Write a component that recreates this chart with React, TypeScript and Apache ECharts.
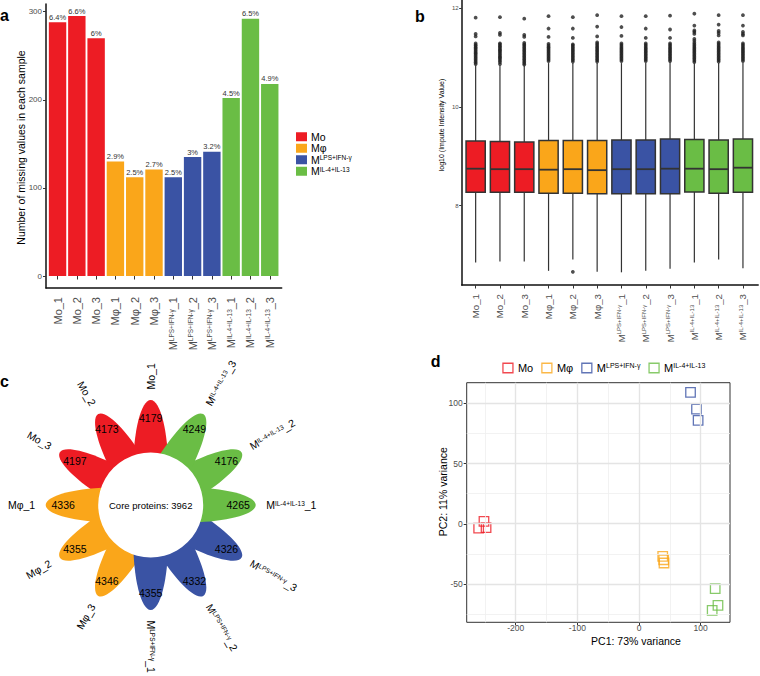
import React, { useEffect, useRef } from 'react';
import * as echarts from 'echarts';

const FONT = '"Liberation Sans", Arial, Helvetica, sans-serif';

// ---------- shared ----------
const groupNames = ['Mo', 'Mφ', 'M^LPS+IFN-γ', 'M^IL-4+IL-13'];
const groupColors = ['#ED1C24', '#FAA61A', '#3A53A4', '#6ABD45'];
const sampleNames = [
  'Mo_1', 'Mo_2', 'Mo_3', 'Mφ_1', 'Mφ_2', 'Mφ_3',
  'M^LPS+IFN-γ_1', 'M^LPS+IFN-γ_2', 'M^LPS+IFN-γ_3',
  'M^IL-4+IL-13_1', 'M^IL-4+IL-13_2', 'M^IL-4+IL-13_3',
];
const sampleGroup = [0, 0, 0, 1, 1, 1, 2, 2, 2, 3, 3, 3];

// ---------- panel a ----------
const missingCounts = [288, 295, 270, 130, 112, 121, 112, 135, 141, 202, 292, 218];
const missingPct = ['6.4%', '6.6%', '6%', '2.9%', '2.5%', '2.7%', '2.5%', '3%', '3.2%', '4.5%', '6.5%', '4.9%'];

// ---------- panel b ----------
const boxLow = [6.85, 6.87, 6.87, 6.68, 6.91, 6.66, 6.65, 6.68, 6.72, 6.85, 6.91, 6.73];
const boxQ1 = [8.27, 8.27, 8.27, 8.25, 8.25, 8.24, 8.24, 8.24, 8.24, 8.28, 8.25, 8.27];
const boxMedian = [8.75, 8.74, 8.74, 8.73, 8.74, 8.72, 8.74, 8.74, 8.75, 8.75, 8.74, 8.77];
const boxQ3 = [9.31, 9.30, 9.29, 9.32, 9.32, 9.32, 9.33, 9.33, 9.35, 9.34, 9.33, 9.35];
const boxHigh = [10.84, 10.84, 10.84, 10.89, 10.89, 10.89, 10.89, 10.89, 10.9, 10.88, 10.89, 10.89];
const boxOutliers = [
  [11.81, 11.48, 11.43, 11.29, 11.26, 11.24, 11.21, 11.19, 11.16, 11.13, 11.1, 11.08, 11.05, 11.02, 10.99, 10.96, 10.93, 10.9, 10.87],
  [11.82, 11.5, 11.46, 11.29, 11.27, 11.24, 11.22, 11.19, 11.16, 11.14, 11.11, 11.08, 11.05, 11.02, 11.0, 10.97, 10.94, 10.91, 10.87],
  [11.79, 11.46, 11.42, 11.3, 11.27, 11.25, 11.22, 11.19, 11.16, 11.13, 11.1, 11.07, 11.04, 11.01, 10.98, 10.95, 10.92, 10.89, 10.86],
  [11.84, 11.59, 11.42, 11.28, 11.25, 11.22, 11.2, 11.17, 11.14, 11.11, 11.08, 11.05, 11.02, 10.99, 10.96, 10.93],
  [11.82, 11.59, 11.4, 11.27, 11.25, 11.22, 11.19, 11.16, 11.13, 11.1, 11.07, 11.04, 11.01, 10.98, 10.95, 10.92, 6.66],
  [11.86, 11.63, 11.43, 11.31, 11.28, 11.25, 11.22, 11.19, 11.16, 11.13, 11.1, 11.07, 11.04, 11.01, 10.98, 10.95, 10.92],
  [11.84, 11.62, 11.44, 11.29, 11.26, 11.23, 11.2, 11.17, 11.14, 11.11, 11.08, 11.05, 11.02, 10.99, 10.96, 10.93],
  [11.84, 11.59, 11.4, 11.29, 11.26, 11.23, 11.2, 11.17, 11.14, 11.11, 11.08, 11.05, 11.02, 10.99, 10.96, 10.93],
  [11.85, 11.57, 11.4, 11.29, 11.26, 11.23, 11.2, 11.17, 11.14, 11.11, 11.08, 11.05, 11.02, 10.99, 10.96, 10.93],
  [11.89, 11.65, 11.55, 11.52, 11.48, 11.38, 11.34, 11.3, 11.27, 11.24, 11.21, 11.18, 11.15, 11.12, 11.09, 11.06, 11.03, 11.0, 10.97, 10.94, 10.91],
  [11.86, 11.67, 11.54, 11.5, 11.45, 11.31, 11.28, 11.25, 11.22, 11.19, 11.16, 11.13, 11.1, 11.07, 11.04, 11.01, 10.98, 10.95, 10.92],
  [11.86, 11.65, 11.52, 11.48, 11.45, 11.29, 11.26, 11.23, 11.2, 11.17, 11.14, 11.11, 11.08, 11.05, 11.02, 10.99, 10.96, 10.93],
];

// ---------- panel c ----------
const flowerCounts = [4179, 4173, 4197, 4336, 4355, 4346, 4355, 4332, 4326, 4265, 4176, 4249];
const coreCount = 3962;

// ---------- panel d ----------
const pc1 = [-251.4, -260, -248, 38.4, 40, 40.5, 83.5, 93.2, 95.8, 123.5, 128, 118.6];
const pc2 = [1.9, -3.6, -3.3, -27.1, -29.9, -32.6, 108.9, 95.1, 85.7, -53.9, -67.7, -71.9];
const gridMajorX = [-200, -100, 0, 100];
const gridMinorX = [-250, -150, -50, 50];
const gridMajorY = [-50, 0, 50, 100];
const gridMinorY = [-75, -25, 25, 75];

const toRich = (s: string) => s.replace(/\^([^_]+)/, '{sup|$1}');
const pcaPrefix = 'pca:';

function supRich(size: number, lh?: number) {
  return { sup: { fontSize: size, verticalAlign: 'top', fontFamily: FONT, lineHeight: lh } };
}

function buildOption(): any {
  const textColor = '#4d4d4d';
  const grid = [
    { left: 46, top: 4, width: 235.7, height: 284 }, // 0 a frame
    { left: 47.9, top: 11.7, width: 231.5, height: 264.3 }, // 1 a data
    { left: 461.7, top: 0, width: 296.5, height: 285 }, // 2 b frame
    { left: 463.5, top: 0, width: 291.6, height: 285 }, // 3 b data
    { left: 461.7, top: 8.3, width: 296.5, height: 197.4 }, // 4 b y labels
    { left: 10.7, top: 365, width: 280, height: 280 }, // 5 flower
    { left: 466.7, top: 382.7, width: 263.3, height: 239.6, show: true, borderColor: '#333', borderWidth: 1, backgroundColor: '#fff' }, // 6 d main
    { left: 515.7, top: 382.7, width: 185, height: 239.6 }, // 7 d x labels
    { left: 466.7, top: 403.3, width: 263.3, height: 180.7 }, // 8 d y labels
  ];

  const frameAxis = (gi: number) => ({
    gridIndex: gi, type: 'value', min: 0, max: 1,
    axisLine: { show: true, onZero: false, lineStyle: { color: '#111', width: 1.5 } },
    axisTick: { show: false }, axisLabel: { show: false }, splitLine: { show: false },
  });
  const hidden = (gi: number, min = 0, max = 1) => ({ gridIndex: gi, type: 'value', min, max, show: false });

  const xAxis = [
    frameAxis(0),
    {
      gridIndex: 1, type: 'category', data: sampleNames, offset: 12,
      axisLine: { show: false },
      axisTick: { show: true, alignWithLabel: true, length: 3.5, lineStyle: { color: '#333' } },
      axisLabel: { interval: 0, rotate: 90, margin: 9, fontSize: 11, color: textColor, fontFamily: FONT, formatter: (v: string) => toRich(v), rich: supRich(6.5) },
      splitLine: { show: false },
    },
    frameAxis(2),
    {
      gridIndex: 3, type: 'category', data: sampleNames,
      axisLine: { show: false },
      axisTick: { show: true, alignWithLabel: true, length: 3.5, lineStyle: { color: '#333' } },
      axisLabel: { interval: 0, rotate: 90, margin: 9, fontSize: 9.7, color: textColor, fontFamily: FONT, formatter: (v: string) => toRich(v), rich: supRich(6) },
      splitLine: { show: false },
    },
    hidden(4),
    hidden(5, -4, 4),
    hidden(6, -279.4, 147.5),
    {
      gridIndex: 7, type: 'value', min: -200, max: 100, interval: 100,
      axisLine: { show: false },
      axisTick: { show: true, length: 3, lineStyle: { color: '#333' } },
      axisLabel: { fontSize: 8.5, color: textColor, margin: 1.5, fontFamily: FONT },
      splitLine: { show: false },
    },
    hidden(8),
  ];

  const yAxis = [
    frameAxis(0),
    {
      gridIndex: 1, type: 'value', min: 0, max: 300, interval: 100, offset: 1.9,
      axisLine: { show: false },
      axisTick: { show: true, length: 3, lineStyle: { color: '#333' } },
      axisLabel: { fontSize: 8, color: textColor, margin: 4, fontFamily: FONT },
      splitLine: { show: false },
    },
    frameAxis(2),
    hidden(3, 6.393, 12.168),
    {
      gridIndex: 4, type: 'value', min: 8, max: 12, interval: 2,
      axisLine: { show: false },
      axisTick: { show: true, length: 2.5, lineStyle: { color: '#333' } },
      axisLabel: { fontSize: 6, color: textColor, margin: 3, fontFamily: FONT },
      splitLine: { show: false },
    },
    hidden(5, -4, 4),
    hidden(6, -81.8, 117),
    hidden(7),
    {
      gridIndex: 8, type: 'value', min: -50, max: 100, interval: 50,
      axisLine: { show: false },
      axisTick: { show: true, length: 3, lineStyle: { color: '#333' } },
      axisLabel: { fontSize: 8.5, color: textColor, margin: 4, fontFamily: FONT },
      splitLine: { show: false },
    },
  ];

  const series: any[] = [];

  // panel a bars
  groupNames.forEach((g, gi) => {
    series.push({
      type: 'bar', name: g, xAxisIndex: 1, yAxisIndex: 1,
      data: missingCounts.map((v, i) => (sampleGroup[i] === gi ? v : '-')),
      barWidth: 17.4, barGap: '-100%',
      itemStyle: { color: groupColors[gi] },
      label: {
        show: true, position: 'top', distance: 1, fontSize: 7.5, color: '#333', fontFamily: FONT,
        formatter: (p: any) => missingPct[p.dataIndex],
      },
    });
  });

  // panel b boxes
  series.push({
    type: 'custom', xAxisIndex: 3, yAxisIndex: 3, clip: false,
    encode: { x: 0, y: [1, 2, 3, 4, 5] },
    data: sampleNames.map((_, i) => [i, boxLow[i], boxQ1[i], boxMedian[i], boxQ3[i], boxHigh[i]]),
    renderItem: (params: any, api: any) => {
      const x = api.value(0);
      const pLo = api.coord([x, api.value(1)]);
      const pQ1 = api.coord([x, api.value(2)]);
      const pMed = api.coord([x, api.value(3)]);
      const pQ3 = api.coord([x, api.value(4)]);
      const pHi = api.coord([x, api.value(5)]);
      const bw = api.size([1, 0])[0] * 0.79;
      const cx = pMed[0];
      const col = groupColors[sampleGroup[params.dataIndex]];
      const stroke = '#333';
      return {
        type: 'group',
        children: [
          { type: 'line', shape: { x1: cx, y1: pLo[1], x2: cx, y2: pQ1[1] }, style: { stroke, lineWidth: 1.2 } },
          { type: 'line', shape: { x1: cx, y1: pQ3[1], x2: cx, y2: pHi[1] }, style: { stroke, lineWidth: 1.2 } },
          { type: 'rect', shape: { x: cx - bw / 2, y: pQ3[1], width: bw, height: pQ1[1] - pQ3[1] }, style: { fill: col, stroke, lineWidth: 1.5 } },
          { type: 'line', shape: { x1: cx - bw / 2, y1: pMed[1], x2: cx + bw / 2, y2: pMed[1] }, style: { stroke, lineWidth: 1.8 } },
        ],
      };
    },
  });
  const outlierData: number[][] = [];
  boxOutliers.forEach((arr, i) => arr.forEach((v) => outlierData.push([i, v])));
  series.push({
    type: 'scatter', xAxisIndex: 3, yAxisIndex: 3, symbol: 'circle', symbolSize: 3.8,
    itemStyle: { color: '#222' }, data: outlierData, silent: true,
  });

  // panel c flower
  series.push({
    type: 'custom', xAxisIndex: 5, yAxisIndex: 5, clip: false, silent: true,
    data: flowerCounts.map((c, i) => [i, c]),
    renderItem: (params: any, api: any) => {
      const i = api.value(0);
      const count = api.value(1);
      const theta = ((90 + 30 * i) * Math.PI) / 180;
      const c = Math.cos(theta);
      const s = Math.sin(theta);
      const unit = api.size([1, 1]);
      const ctr = api.coord([c, s]);
      const numPos = api.coord([c * 2.5, s * 2.5]);
      const labPos = api.coord([c * 3.3, s * 3.3]);
      const leftSide = i >= 1 && i <= 5;
      const col = groupColors[sampleGroup[i]];
      return {
        type: 'group',
        children: [
          {
            type: 'ellipse', x: ctr[0], y: ctr[1], rotation: theta - Math.PI / 2,
            shape: { cx: 0, cy: 0, rx: 0.5 * unit[0], ry: 2 * unit[1] },
            style: { fill: col },
          },
          {
            type: 'text', x: numPos[0], y: numPos[1],
            style: { text: String(count), fontSize: 10.5, fontFamily: FONT, fill: '#000', align: 'center', verticalAlign: 'middle', textAlign: 'center', textVerticalAlign: 'middle' },
          },
          {
            type: 'text', x: labPos[0], y: labPos[1], rotation: leftSide ? theta - Math.PI : theta,
            style: {
              text: toRich(sampleNames[i]), fontSize: 10.5, fontFamily: FONT, fill: '#000',
              align: leftSide ? 'right' : 'left', verticalAlign: 'middle',
              textAlign: leftSide ? 'right' : 'left', textVerticalAlign: 'middle',
              rich: { sup: { fontSize: 6.5, fontFamily: FONT, fill: '#000', verticalAlign: 'top' } },
            },
          },
        ],
      };
    },
  });
  series.push({
    type: 'custom', xAxisIndex: 5, yAxisIndex: 5, clip: false, silent: true,
    data: [[0, coreCount]],
    renderItem: (params: any, api: any) => {
      const ctr = api.coord([0, 0]);
      const unit = api.size([1, 1]);
      return {
        type: 'group',
        children: [
          { type: 'circle', shape: { cx: ctr[0], cy: ctr[1], r: 1.5 * unit[0] }, style: { fill: '#fff' } },
          {
            type: 'text', x: ctr[0], y: ctr[1],
            style: { text: 'Core proteins: ' + api.value(1), fontSize: 9.5, fontFamily: FONT, fill: '#000', align: 'center', verticalAlign: 'middle', textAlign: 'center', textVerticalAlign: 'middle' },
          },
        ],
      };
    },
  });

  // panel d grid lines
  const major = { color: '#e4e4e4', width: 1.4, type: 'solid' };
  const minor = { color: '#efefef', width: 0.8, type: 'solid' };
  series.push({
    type: 'scatter', xAxisIndex: 6, yAxisIndex: 6, data: [], silent: true, z: 1,
    markLine: {
      silent: true, symbol: ['none', 'none'], label: { show: false }, animation: false,
      data: [
        ...gridMinorX.map((v) => ({ xAxis: v, lineStyle: minor })),
        ...gridMinorY.map((v) => ({ yAxis: v, lineStyle: minor })),
        ...gridMajorX.map((v) => ({ xAxis: v, lineStyle: major })),
        ...gridMajorY.map((v) => ({ yAxis: v, lineStyle: major })),
      ],
    },
  });
  groupNames.forEach((g, gi) => {
    series.push({
      type: 'scatter', name: pcaPrefix + g, xAxisIndex: 6, yAxisIndex: 6, z: 3,
      symbol: 'rect', symbolSize: 9.5,
      itemStyle: { color: 'rgba(0,0,0,0)', borderColor: groupColors[gi], borderWidth: 1.3 },
      data: pc1.map((x, i) => [x, pc2[i], i]).filter((d) => sampleGroup[d[2]] === gi).map((d) => [d[0], d[1]]),
    });
  });

  const legend = [
    {
      data: groupNames, left: 296, top: 131, orient: 'vertical', padding: 0,
      itemWidth: 11, itemHeight: 9, itemGap: 0, icon: 'rect', selectedMode: false,
      textStyle: { fontSize: 10.5, color: '#000', fontFamily: FONT, lineHeight: 11.5, padding: [0, 0, 0, -1], rich: supRich(6.5, 11.5) },
      formatter: (n: string) => toRich(n),
    },
    {
      data: groupNames.map((g, gi) => ({
        name: pcaPrefix + g, icon: 'rect',
        itemStyle: { color: 'rgba(0,0,0,0)', borderColor: groupColors[gi], borderWidth: 1.3 },
      })),
      left: 502.3, top: 362, orient: 'horizontal', padding: 0,
      itemWidth: 10, itemHeight: 9.5, itemGap: 8, selectedMode: false,
      textStyle: { fontSize: 11, color: '#000', fontFamily: FONT, lineHeight: 12, rich: supRich(7, 12) },
      formatter: (n: string) => toRich(n.slice(pcaPrefix.length)),
    },
  ];

  const t = (text: string, x: number, y: number, size: number, opts: any = {}) => ({
    type: 'text', x, y, rotation: opts.rotation || 0, silent: true,
    style: {
      text, fill: '#000', font: `${opts.bold ? 'bold ' : ''}${size}px ${FONT}`,
      fontSize: size, fontFamily: FONT, fontWeight: opts.bold ? 'bold' : 'normal',
      align: opts.align || 'center', verticalAlign: 'middle',
      textAlign: opts.align || 'center', textVerticalAlign: 'middle',
    },
  });

  const graphic = [
    t('a', 0, 15.8, 16, { bold: true, align: 'left' }),
    t('b', 415, 16.1, 16, { bold: true, align: 'left' }),
    t('c', 0, 381, 16, { bold: true, align: 'left' }),
    t('d', 430.7, 361, 16, { bold: true, align: 'left' }),
    t('Number of missing values in each sample', 20.5, 147.5, 10.5, { rotation: Math.PI / 2 }),
    t('log10 (Impute Intensity Value)', 441.7, 125, 7, { rotation: Math.PI / 2 }),
    t('PC1: 73% variance', 636, 640.5, 10.5),
    t('PC2: 11% variance', 443.3, 491.7, 10.5, { rotation: Math.PI / 2 }),
  ];

  return {
    animation: false,
    backgroundColor: '#fff',
    textStyle: { fontFamily: FONT },
    grid, xAxis, yAxis, series, legend, graphic,
  };
}

export default function App() {
  const ref = useRef<HTMLDivElement>(null);
  useEffect(() => {
    if (!ref.current) return;
    const chart = echarts.init(ref.current, undefined, { renderer: 'svg' });
    chart.setOption(buildOption());
    return () => chart.dispose();
  }, []);
  return (
    <div
      ref={ref}
      style={{ position: 'fixed', left: 0, top: 0, width: 760, height: 676, background: '#fff' }}
    />
  );
}
